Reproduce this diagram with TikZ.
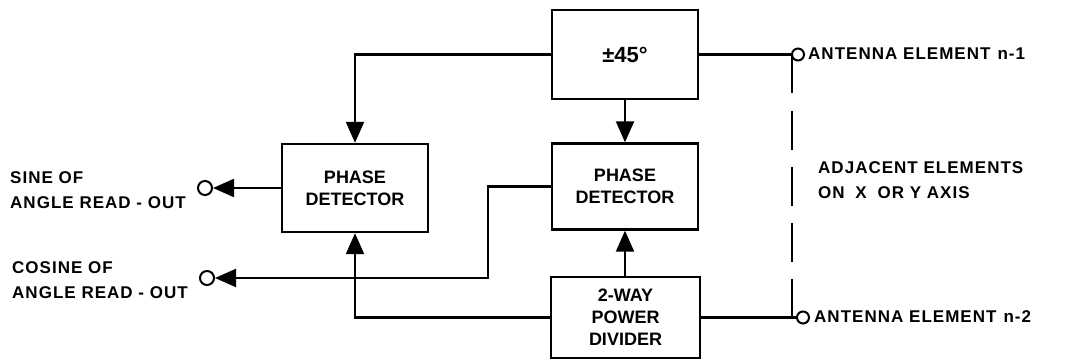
\documentclass[tikz,border=0pt]{standalone}
\usepackage{fontspec}
\setmainfont{Liberation Sans}
\newfontfamily\spaced[LetterSpace=6]{Liberation Sans}
\usetikzlibrary{arrows.meta}
\begin{document}
\begin{tikzpicture}[x=1pt,y=-1pt,
  blk/.style={draw,line width=2.4pt,inner sep=0pt,minimum width=146pt,align=center,
              font=\bfseries\fontsize{18}{22}\selectfont},
  wire/.style={line width=2.1pt},
  arr/.style={wire,-{Triangle[length=21pt,width=18pt]}},
  term/.style={circle,draw,line width=2pt,minimum size=12pt,inner sep=0pt},
  lbl/.style={font=\spaced\bfseries\fontsize{17}{25}\selectfont,align=left,inner sep=0pt}]
\useasboundingbox (0,0) rectangle (1069,361);
% blocks
\node[blk,minimum height=89pt] (pm) at (625,54.5) {\fontsize{22}{24}\selectfont ±45°};
\node[blk,minimum height=88pt] (pd1) at (355,188) {PHASE\\DETECTOR};
\node[blk,minimum height=86pt] (pd2) at (625,186.5) {PHASE\\DETECTOR};
\node[blk,minimum height=81pt,minimum width=149pt] (div) at (625.5,317.5) {2-WAY\\POWER\\DIVIDER};
% terminals
\node[term,minimum size=14pt] (sine) at (205,188) {};
\node[term,minimum size=14pt] (cos) at (207,278) {};
\node[term] (a1) at (798,54.5) {};
\node[term] (a2) at (803,317.5) {};
% labels
\node[lbl,anchor=west] (sinel) at (10,190.5) {SINE OF\\ANGLE READ - OUT};
\node[lbl,anchor=west] (cosl) at (12,280.5) {COSINE OF\\ANGLE READ - OUT};
\node[lbl,anchor=west] (a1l) at (808,54) {ANTENNA ELEMENT\hspace{7pt}n-1};
\node[lbl,anchor=west] (a2l) at (814,317) {ANTENNA ELEMENT\hspace{7pt}n-2};
\node[lbl,anchor=west] (adj) at (818,180.5) {ADJACENT ELEMENTS\\ON\hspace{5pt} X\hspace{5pt} OR Y AXIS};
% connectors
\draw[arr] (pm.west) -| (pd1.north);
\draw[arr] (pm.south) -- (pd2.north);
\draw[arr] (div.north -| pd2.south) -- (pd2.south);
\draw[arr] (div.west) -| (pd1.south);
\draw[arr] (pd1.west) -- (sine);
\coordinate (jog) at (488,186.5);
\draw[arr] (pd2.west) -- (jog) |- (cos);
\draw[wire] (pm.east) -- (a1);
\draw[wire] (div.east) -- (a2);
\coordinate (d1) at (792,54.5);
\coordinate (d2) at (792,317.5);
\draw[wire,dash pattern=on 39pt off 17pt] (d1) -- (d2);
\end{tikzpicture}
\end{document}
